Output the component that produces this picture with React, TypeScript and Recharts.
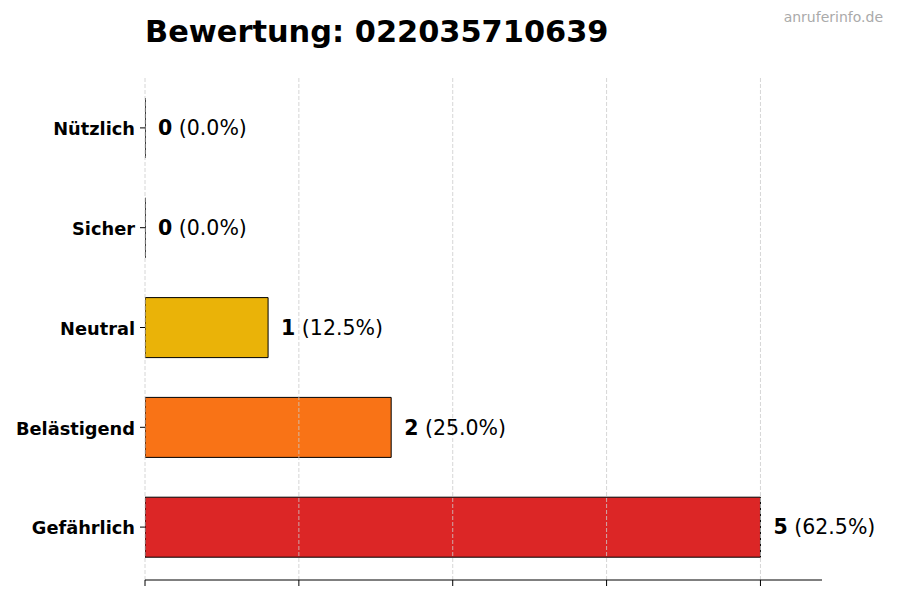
import React from 'react';
import { BarChart, Bar, XAxis, YAxis, ReferenceLine, LabelList } from 'recharts';

const categories = ['Nützlich', 'Sicher', 'Neutral', 'Belästigend', 'Gefährlich'];
const counts = [0, 0, 1, 2, 5];
const colors = ['#22c55e', '#3b82f6', '#eab308', '#f97316', '#dc2626'];
const xTicks = [0, 1.25, 2.5, 3.75, 5];
const title = 'Bewertung: 022035710639';
const watermark = 'anruferinfo.de';

const total = counts.reduce((a, b) => a + b, 0);
const data = categories.map((name, i) => ({
  name,
  count: counts[i],
  pct: total ? ((counts[i] / total) * 100).toFixed(1) : '0.0',
  color: colors[i],
}));

const FONT = '"DejaVu Sans", sans-serif';

const BarShape = (props: any) => {
  const { x, y, width, height, payload } = props;
  const w = Math.max(0, width || 0);
  return (
    <path
      d={`M${x},${y} h${w} v${height} h${-w} Z`}
      fill={payload.color}
      stroke="#000"
      strokeWidth={1}
    />
  );
};

const renderLabel = (props: any) => {
  const { x, y, width, height, index } = props;
  const d = data[index];
  return (
    <text
      x={x + Math.max(0, width) + 13}
      y={y + height / 2}
      dy="0.35em"
      fontFamily={FONT}
      fontSize={20.5}
      fill="#000"
    >
      <tspan fontWeight="bold">{d.count}</tspan>
      <tspan> ({d.pct}%)</tspan>
    </text>
  );
};

const YTick = (props: any) => {
  const { x, y, payload } = props;
  return (
    <text
      x={x}
      y={y + 1}
      dy="0.35em"
      textAnchor="end"
      fontFamily={FONT}
      fontWeight="bold"
      fontSize={17.8}
      fill="#000"
    >
      {payload.value}
    </text>
  );
};

export default function App() {
  return (
    <div style={{ position: 'absolute', left: 0, top: 0, width: 900, height: 600, background: '#fff' }}>
      <div
        style={{
          position: 'absolute',
          left: 145,
          top: 14,
          fontFamily: FONT,
          fontWeight: 'bold',
          fontSize: 30.4,
          color: '#000',
          whiteSpace: 'nowrap',
          lineHeight: '36px',
        }}
      >
        {title}
      </div>
      <div
        style={{
          position: 'absolute',
          right: 17,
          top: 9,
          fontFamily: FONT,
          fontSize: 14,
          color: '#aaaaaa',
          lineHeight: '16px',
        }}
      >
        {watermark}
      </div>
      <BarChart
        width={900}
        height={600}
        data={data}
        layout="vertical"
        margin={{ top: 76, right: 78, bottom: 0, left: 0 }}
        barCategoryGap={0}
      >
        <XAxis
          type="number"
          domain={[0, 5.5]}
          ticks={xTicks}
          height={20}
          tickSize={6}
          tickFormatter={() => ''}
          axisLine={{ stroke: '#000', strokeWidth: 1 }}
          tickLine={{ stroke: '#000', strokeWidth: 1 }}
          allowDataOverflow
        />
        <YAxis
          type="category"
          dataKey="name"
          width={145}
          axisLine={false}
          tickSize={5}
          tickMargin={5}
          padding={{ top: 2, bottom: 3 }}
          tickLine={{ stroke: '#000' }}
          tick={<YTick />}
        />
        <Bar dataKey="count" barSize={60} shape={BarShape} isAnimationActive={false}>
          <LabelList dataKey="count" content={renderLabel} />
        </Bar>
        {xTicks.map((t) => (
          <ReferenceLine key={t} x={t} stroke="#cccccc" strokeDasharray="4 2" strokeWidth={0.8} />
        ))}
      </BarChart>
    </div>
  );
}
